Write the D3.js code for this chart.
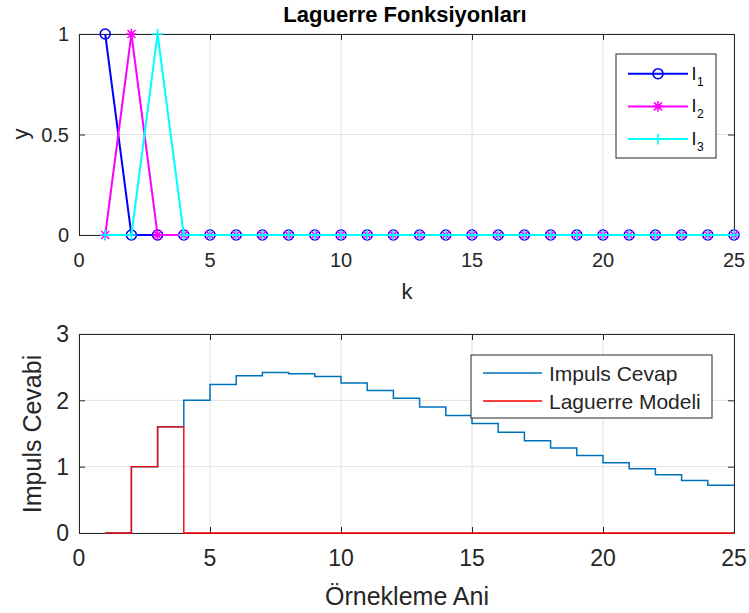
<!DOCTYPE html>
<html>
<head>
<meta charset="utf-8">
<script src="https://cdn.jsdelivr.net/npm/d3@7"></script>
<style>
  html, body { margin: 0; padding: 0; background: #fff; }
  svg { display: block; font-family: "Liberation Sans", Arial, sans-serif; }
</style>
</head>
<body>
<svg id="chart" width="749" height="613"></svg>
<script>
// Sample index k
const k = d3.range(1, 26);
// Laguerre basis functions
const l1 = [1, 0, 0, 0, 0, 0, 0, 0, 0, 0, 0, 0, 0, 0, 0, 0, 0, 0, 0, 0, 0, 0, 0, 0, 0];
const l2 = [0, 1, 0, 0, 0, 0, 0, 0, 0, 0, 0, 0, 0, 0, 0, 0, 0, 0, 0, 0, 0, 0, 0, 0, 0];
const l3 = [0, 0, 1, 0, 0, 0, 0, 0, 0, 0, 0, 0, 0, 0, 0, 0, 0, 0, 0, 0, 0, 0, 0, 0, 0];
// Impulse response and Laguerre model
const impulse = [0, 1.0, 1.6, 2.0, 2.24, 2.37, 2.42, 2.40, 2.36, 2.26, 2.15, 2.03, 1.90, 1.77,
                 1.65, 1.52, 1.39, 1.28, 1.17, 1.06, 0.97, 0.88, 0.79, 0.72, 0.72];
const model = [0, 1.0, 1.6, 0, 0, 0, 0, 0, 0, 0, 0, 0, 0, 0, 0, 0, 0, 0, 0, 0, 0, 0, 0, 0, 0];

const xTicks = [0, 5, 10, 15, 20, 25];
const yTicksTop = [0, 0.5, 1];
const yTicksBottom = [0, 1, 2, 3];

const svg = d3.select("#chart");
const left = 79, right = 734;
const ink = "#262626";

function panel(o) {
  const x = d3.scaleLinear().domain([0, 25]).range([left, right]);
  const y = d3.scaleLinear().domain(o.yDomain).range([o.bottom, o.top]);
  const g = svg.append("g");
  // grid
  g.append("g").selectAll("line").data(xTicks).join("line")
    .attr("x1", d => x(d)).attr("x2", d => x(d)).attr("y1", o.top).attr("y2", o.bottom)
    .attr("stroke", "#e0e0e0").attr("stroke-width", 1);
  g.append("g").selectAll("line").data(o.yTicks).join("line")
    .attr("x1", left).attr("x2", right).attr("y1", d => y(d)).attr("y2", d => y(d))
    .attr("stroke", "#e0e0e0").attr("stroke-width", 1);
  // box with inward ticks on all four sides
  const axes = [
    g.append("g").attr("transform", `translate(0,${o.bottom})`)
      .call(d3.axisBottom(x).tickValues(xTicks).tickSizeInner(-6).tickSizeOuter(0).tickFormat("")),
    g.append("g").attr("transform", `translate(${left},0)`)
      .call(d3.axisLeft(y).tickValues(o.yTicks).tickSizeInner(-6).tickSizeOuter(0).tickFormat("")),
    g.append("g").attr("transform", `translate(0,${o.top})`)
      .call(d3.axisTop(x).tickValues(xTicks).tickSizeInner(-6).tickSizeOuter(0).tickFormat("")),
    g.append("g").attr("transform", `translate(${right},0)`)
      .call(d3.axisRight(y).tickValues(o.yTicks).tickSizeInner(-6).tickSizeOuter(0).tickFormat(""))
  ];
  axes.forEach(a => {
    a.select(".domain").attr("stroke", ink).attr("stroke-width", 1);
    a.selectAll(".tick line").attr("stroke", ink);
  });
  // tick labels
  g.append("g").selectAll("text").data(xTicks).join("text")
    .attr("x", d => x(d)).attr("y", o.xLabelBase).attr("text-anchor", "middle")
    .attr("font-size", o.tickFont).attr("fill", ink).text(d => d);
  g.append("g").selectAll("text").data(o.yTicks).join("text")
    .attr("x", left - 10).attr("y", d => y(d)).attr("dy", "0.36em").attr("text-anchor", "end")
    .attr("font-size", o.tickFont).attr("fill", ink).text(o.yFmt);
  return { x, y, g };
}

// ---- Top panel: Laguerre functions ----
const P1 = panel({ top: 34, bottom: 235, yDomain: [0, 1], yTicks: yTicksTop,
  yFmt: d3.format("~g"), tickFont: 20, xLabelBase: 267 });
const series1 = [
  { name: "1", data: l1, color: "#0000ff", marker: "o" },
  { name: "2", data: l2, color: "#ff00ff", marker: "*" },
  { name: "3", data: l3, color: "#00ffff", marker: "+" }
];
function drawMarker(sel, type, color, cx, cy) {
  const r = 5.3;
  if (type === "o") {
    sel.append("circle").attr("cx", cx).attr("cy", cy).attr("r", r - 0.3)
      .attr("fill", "none").attr("stroke", color).attr("stroke-width", 1.6);
  } else if (type === "+") {
    sel.append("path").attr("d", `M${cx - r},${cy}H${cx + r}M${cx},${cy - r}V${cy + r}`)
      .attr("stroke", color).attr("stroke-width", 1.6);
  } else {
    const a = r * 0.75;
    sel.append("path")
      .attr("d", `M${cx - r},${cy}H${cx + r}M${cx},${cy - r}V${cy + r}M${cx - a},${cy - a}L${cx + a},${cy + a}M${cx - a},${cy + a}L${cx + a},${cy - a}`)
      .attr("stroke", color).attr("stroke-width", 1.6);
  }
}
const line1 = d3.line().x((d, i) => P1.x(k[i])).y(d => P1.y(d));
series1.forEach(s => {
  const g = P1.g.append("g");
  g.append("path").attr("d", line1(s.data)).attr("fill", "none")
    .attr("stroke", s.color).attr("stroke-width", 2);
  s.data.forEach((d, i) => drawMarker(g, s.marker, s.color, P1.x(k[i]), P1.y(d)));
});
// title and axis labels
svg.append("text").attr("x", 405).attr("y", 22).attr("text-anchor", "middle")
  .attr("font-size", 22).attr("font-weight", "bold").attr("fill", "#000")
  .text("Laguerre Fonksiyonları");
svg.append("text").attr("x", 407).attr("y", 299).attr("text-anchor", "middle")
  .attr("font-size", 22).attr("fill", ink).text("k");
svg.append("text").attr("transform", "translate(28,134) rotate(-90)").attr("text-anchor", "middle")
  .attr("font-size", 22).attr("fill", ink).text("y");
// legend
const lg1 = svg.append("g");
lg1.append("rect").attr("x", 616).attr("y", 54).attr("width", 100).attr("height", 104)
  .attr("fill", "#fff").attr("stroke", ink).attr("stroke-width", 1);
series1.forEach((s, i) => {
  const yy = 73.7 + i * 32.7;
  lg1.append("line").attr("x1", 628).attr("x2", 688).attr("y1", yy).attr("y2", yy)
    .attr("stroke", s.color).attr("stroke-width", 2);
  drawMarker(lg1, s.marker, s.color, 658, yy);
  const t = lg1.append("text").attr("x", 692).attr("y", yy + 6).attr("font-size", 18).attr("fill", "#000");
  t.append("tspan").text("l");
  t.append("tspan").attr("dy", 6).attr("dx", 1).attr("font-size", 12).text(s.name);
});

// ---- Bottom panel: impulse response vs model ----
const P2 = panel({ top: 334, bottom: 533, yDomain: [0, 3], yTicks: yTicksBottom,
  yFmt: d3.format("d"), tickFont: 23, xLabelBase: 566 });
const stair = d3.line().curve(d3.curveStepAfter).x((d, i) => P2.x(k[i])).y(d => P2.y(d));
P2.g.append("path").attr("d", stair(impulse)).attr("fill", "none")
  .attr("stroke", "#0072bd").attr("stroke-width", 1.5);
P2.g.append("path").attr("d", stair(model)).attr("fill", "none")
  .attr("stroke", "#ff0000").attr("stroke-width", 1.4);
svg.append("text").attr("x", 407).attr("y", 605).attr("text-anchor", "middle")
  .attr("font-size", 25).attr("fill", ink).text("Örnekleme Ani");
svg.append("text").attr("transform", "translate(41,434) rotate(-90)").attr("text-anchor", "middle")
  .attr("font-size", 25).attr("fill", ink).text("Impuls Cevabi");
const lg2 = svg.append("g");
lg2.append("rect").attr("x", 471).attr("y", 355).attr("width", 241).attr("height", 63)
  .attr("fill", "#fff").attr("stroke", ink).attr("stroke-width", 1);
[["Impuls Cevap", "#0072bd"], ["Laguerre Modeli", "#ff0000"]].forEach(([name, c], i) => {
  const yy = 373 + i * 28;
  lg2.append("line").attr("x1", 483).attr("x2", 542).attr("y1", yy).attr("y2", yy)
    .attr("stroke", c).attr("stroke-width", 1.5);
  lg2.append("text").attr("x", 549).attr("y", yy + 8).attr("font-size", 21).attr("fill", ink).text(name);
});
</script>
</body>
</html>
